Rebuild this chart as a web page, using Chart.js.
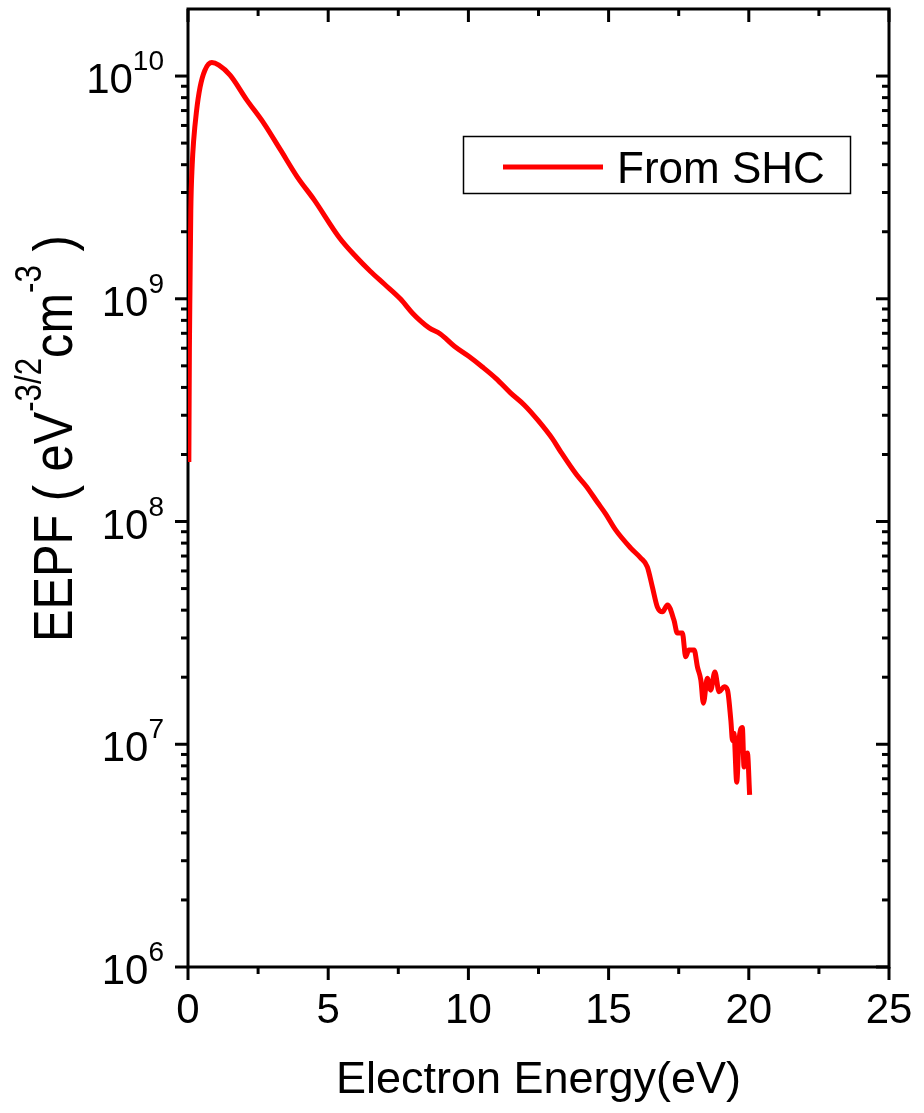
<!DOCTYPE html>
<html>
<head>
<meta charset="utf-8">
<script src="https://cdn.jsdelivr.net/npm/chart.js@4.4.1/dist/chart.umd.min.js"></script>
<style>
    html, body { margin: 0; padding: 0; background: #fff; }
    #grafico { display: block; }
</style>
</head>
<body>
<canvas id="grafico" width="924" height="1113"></canvas>
<script>
// Electron energy (eV) and EEPF (eV^-3/2 cm^-3)
const energy = [
    0.03, 0.05, 0.07, 0.1, 0.15, 0.2, 0.3, 0.43, 0.6, 0.85, 1.1, 1.5, 2.1, 2.7, 3.3, 3.9, 4.5, 5.4,
    6.0, 6.5, 7.0, 7.57, 8.0, 8.3, 8.6, 9.0, 9.5, 10.0, 10.5, 11.0, 11.5, 12.0, 12.5, 13.0, 13.3,
    13.86, 14.2, 14.6, 14.9, 15.25, 15.79, 16.14, 16.38, 16.56, 16.74, 16.92, 17.1, 17.33, 17.45, 17.63, 17.75,
    17.86, 18.05, 18.17, 18.29, 18.38, 18.52, 18.64, 18.79, 18.94, 19.12, 19.24, 19.36, 19.42,
    19.47, 19.57, 19.65, 19.77, 19.83, 19.95, 20.03
];
const eepf = [
    1.85e8, 6e8, 1.1e9, 2.5e9, 4.0e9, 5.1e9, 6.9e9, 8.9e9, 1.06e10, 1.15e10, 1.12e10, 1.01e10,
    7.8e9, 6.15e9, 4.66e9, 3.52e9, 2.78e9, 1.88e9,
    1.54e9, 1.33e9, 1.165e9, 1.0e9, 8.64e8, 7.94e8, 7.4e8, 6.95e8, 6.12e8, 5.53e8, 4.94e8, 4.37e8,
    3.78e8, 3.33e8, 2.83e8, 2.35e8, 2.05e8,
    1.62e8, 1.44e8, 1.22e8, 1.08e8, 9.17e7, 7.6e7, 6.87e7, 6.26e7, 5.09e7, 4.13e7, 3.93e7, 4.22e7, 3.61e7, 3.16e7,
    3.16e7, 2.47e7, 2.65e7, 2.65e7, 2.22e7, 1.94e7, 1.53e7, 1.98e7, 1.75e7, 2.11e7, 1.72e7, 1.81e7,
    1.75e7, 1.28e7, 1.04e7, 1.12e7, 6.76e6, 1.04e7, 1.19e7, 7.91e6, 9.14e6, 5.92e6
];

const xTicks = [0, 5, 10, 15, 20, 25];
const xMinorTicks = [2.5, 7.5, 12.5, 17.5, 22.5];
const yDecades = [6, 7, 8, 9, 10];

const seriesLabel = 'From SHC';
const xTitle = 'Electron Energy(eV)';
const yTitleParts = [
    { t: 'EEPF ( eV' }, { t: '-3/2', sup: true }, { t: 'cm' }, { t: '-3', sup: true }, { t: ' )' }
];

const FONT = '"Liberation Sans", Arial, sans-serif';
const ROJO = '#ff0000';

// frame and ticks, drawn under the curve
const marco = {
    id: 'marco',
    beforeDatasetsDraw(chart) {
        const { ctx, chartArea: a, scales: { x, y } } = chart;
        ctx.save();
        ctx.strokeStyle = '#000';
        ctx.lineWidth = 3;
        ctx.lineCap = 'butt';

        ctx.beginPath();
        ctx.moveTo(a.left, a.top - 1.5); ctx.lineTo(a.left, a.bottom + 1.5);
        ctx.moveTo(a.right, a.top - 1.5); ctx.lineTo(a.right, a.bottom + 1.5);
        ctx.moveTo(a.left - 1.5, a.top); ctx.lineTo(a.right + 1.5, a.top);
        ctx.moveTo(a.left - 1.5, a.bottom); ctx.lineTo(a.right + 1.5, a.bottom);
        ctx.stroke();

        const linea = (x1, y1, x2, y2) => { ctx.beginPath(); ctx.moveTo(x1, y1); ctx.lineTo(x2, y2); ctx.stroke(); };

        xTicks.forEach(v => {
            const px = x.getPixelForValue(v);
            linea(px, a.bottom, px, a.bottom + 13);
            linea(px, a.top, px, a.top + 13);
        });
        xMinorTicks.forEach(v => {
            const px = x.getPixelForValue(v);
            linea(px, a.bottom, px, a.bottom + 7);
            linea(px, a.top, px, a.top + 7);
        });

        yDecades.forEach(d => {
            const py = y.getPixelForValue(Math.pow(10, d));
            linea(a.left, py, a.left - 13, py);
            linea(a.right, py, a.right - 13, py);
            if (d < 10) {
                for (let k = 2; k <= 9; k++) {
                    const pm = y.getPixelForValue(k * Math.pow(10, d));
                    linea(a.left, pm, a.left - 7, pm);
                    linea(a.right, pm, a.right - 7, pm);
                }
            }
        });
        ctx.restore();
    },
    afterDraw(chart) {
        const { ctx, scales: { y } } = chart;
        ctx.save();
        ctx.fillStyle = '#000';
        ctx.textAlign = 'left';
        ctx.textBaseline = 'alphabetic';

        // y tick labels 10^n
        const fPrin = `42px ${FONT}`;
        const fSup = `28px ${FONT}`;
        const xDer = 164;
        yDecades.forEach(d => {
            const py = y.getPixelForValue(Math.pow(10, d));
            const sup = String(d);
            ctx.font = fSup;
            const ws = ctx.measureText(sup).width;
            ctx.font = fPrin;
            const wm = ctx.measureText('10').width;
            ctx.fillText('10', xDer - ws - wm, py + 17);
            ctx.font = fSup;
            ctx.fillText(sup, xDer - ws, py - 6);
        });

        // y axis title, rotated, with superscripts
        ctx.save();
        ctx.translate(72, 642);
        ctx.rotate(-Math.PI / 2);
        ctx.scale(0.87, 1);
        let cx = 0;
        yTitleParts.forEach(p => {
            ctx.font = p.sup ? `36px ${FONT}` : `56px ${FONT}`;
            ctx.fillText(p.t, cx, p.sup ? -31 : 0);
            cx += ctx.measureText(p.t).width;
        });
        ctx.restore();

        // legend box
        ctx.strokeStyle = '#000';
        ctx.lineWidth = 1.5;
        ctx.strokeRect(463.5, 136.5, 387, 57);
        ctx.strokeStyle = ROJO;
        ctx.lineWidth = 5;
        ctx.beginPath();
        ctx.moveTo(503, 167);
        ctx.lineTo(603, 167);
        ctx.stroke();
        ctx.font = `44px ${FONT}`;
        ctx.fillText(seriesLabel, 617, 183);

        ctx.restore();
    }
};

new Chart(document.getElementById('grafico'), {
    type: 'line',
    data: {
        datasets: [{
            label: seriesLabel,
            data: energy.map((e, i) => ({ x: e, y: eepf[i] })),
            borderColor: ROJO,
            borderWidth: 5,
            pointRadius: 0,
            cubicInterpolationMode: 'monotone',
            fill: false
        }]
    },
    options: {
        responsive: false,
        animation: false,
        devicePixelRatio: 1,
        layout: { padding: { top: 9, right: 35, left: 0, bottom: 0 } },
        plugins: {
            legend: { display: false },
            tooltip: { enabled: false }
        },
        scales: {
            x: {
                type: 'linear',
                min: 0,
                max: 25,
                grid: { display: false, drawTicks: false },
                border: { display: false },
                ticks: {
                    stepSize: 5,
                    autoSkip: false,
                    maxRotation: 0,
                    padding: 19,
                    color: '#000',
                    font: { family: FONT, size: 42 }
                },
                title: {
                    display: true,
                    text: xTitle,
                    color: '#000',
                    font: { family: FONT, size: 45 },
                    padding: { top: 0, bottom: 5 }
                },
                afterFit(s) {
                    s.height = 146;
                    s.paddingLeft = 0;
                    s.paddingRight = 0;
                }
            },
            y: {
                type: 'logarithmic',
                min: 1e6,
                max: 2e10,
                grid: { display: false, drawTicks: false },
                border: { display: false },
                ticks: { display: false },
                afterFit(s) {
                    s.width = 188;
                    s.paddingTop = 0;
                    s.paddingBottom = 0;
                }
            }
        }
    },
    plugins: [marco]
});
</script>
</body>
</html>
